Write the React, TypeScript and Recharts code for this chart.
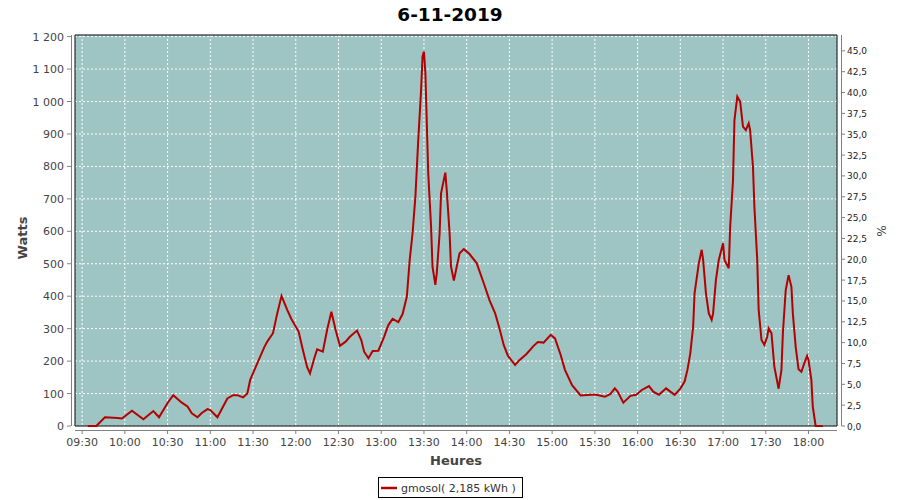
import { LineChart, Line, XAxis, YAxis, CartesianGrid, ReferenceArea } from 'recharts';

// readings (time of day, watts)
const times = [
  '09:34', '09:40', '09:46', '09:55', '09:58', '10:05', '10:13', '10:20', '10:24', '10:30',
  '10:34', '10:40', '10:44', '10:47', '10:51', '10:54', '10:58', '11:00', '11:05', '11:09',
  '11:12', '11:16', '11:19', '11:23', '11:26', '11:28', '11:31', '11:35', '11:38', '11:40',
  '11:44', '11:47', '11:50', '11:54', '11:57', '12:02', '12:05', '12:08', '12:10', '12:13',
  '12:15', '12:19', '12:22', '12:25', '12:28', '12:31', '12:35', '12:38', '12:43', '12:46',
  '12:48', '12:51', '12:54', '12:58', '13:02', '13:05', '13:08', '13:12', '13:15', '13:18',
  '13:20', '13:22', '13:24', '13:26', '13:28', '13:29', '13:30', '13:31', '13:32', '13:33',
  '13:35', '13:36', '13:38', '13:39', '13:41', '13:42', '13:45', '13:46', '13:48', '13:49',
  '13:51', '13:53', '13:55', '13:58', '14:02', '14:07', '14:12', '14:16', '14:20', '14:23',
  '14:26', '14:29', '14:34', '14:37', '14:42', '14:47', '14:50', '14:54', '14:59', '15:02',
  '15:06', '15:09', '15:14', '15:20', '15:27', '15:31', '15:37', '15:41', '15:44', '15:46',
  '15:50', '15:55', '15:59', '16:03', '16:08', '16:11', '16:15', '16:20', '16:23', '16:26',
  '16:30', '16:33', '16:35', '16:37', '16:39', '16:40', '16:43', '16:45', '16:46', '16:48',
  '16:50', '16:52', '16:53', '16:55', '16:57', '17:00', '17:01', '17:04', '17:05', '17:07',
  '17:08', '17:10', '17:12', '17:14', '17:16', '17:18', '17:19', '17:21', '17:22', '17:24',
  '17:25', '17:27', '17:29', '17:31', '17:32', '17:34', '17:36', '17:39', '17:41', '17:42',
  '17:44', '17:46', '17:48', '17:49', '17:51', '17:53', '17:55', '17:57', '17:59', '18:00',
  '18:02', '18:03', '18:05', '18:10',
];

const watts = [
  0, 0, 27, 25, 23, 47, 21, 46, 27, 71,
  95, 72, 60, 39, 27, 40, 52, 49, 27, 60,
  85, 95, 95, 88, 100, 142, 173, 214, 244, 260,
  286, 347, 401, 358, 329, 291, 234, 181, 162, 209,
  236, 229, 296, 352, 296, 247, 260, 275, 294, 265,
  229, 209, 231, 232, 275, 311, 330, 320, 345, 399,
  512, 594, 707, 882, 1036, 1139, 1154, 1087, 933, 779,
  614, 491, 435, 471, 594, 717, 781, 727, 594, 491,
  448, 491, 532, 545, 530, 502, 440, 388, 347, 301,
  250, 216, 188, 203, 222, 247, 259, 257, 281, 270,
  219, 173, 126, 94, 96, 96, 90, 99, 116, 106,
  72, 93, 96, 111, 123, 106, 96, 116, 106, 96,
  115, 137, 173, 224, 306, 409, 502, 543, 512, 409,
  347, 327, 347, 450, 512, 563, 512, 486, 614, 758,
  943, 1015, 1000, 923, 912, 933, 912, 799, 676, 512,
  358, 265, 250, 275, 301, 286, 183, 115, 173, 286,
  419, 465, 429, 347, 244, 175, 167, 193, 216, 203,
  142, 60, 0, 0,
];

const xTickLabels = [
  '09:30', '10:00', '10:30', '11:00', '11:30', '12:00', '12:30', '13:00', '13:30',
  '14:00', '14:30', '15:00', '15:30', '16:00', '16:30', '17:00', '17:30', '18:00',
];
const wattTicks = [0, 100, 200, 300, 400, 500, 600, 700, 800, 900, 1000, 1100, 1200];
const pctTicks = [0, 2.5, 5, 7.5, 10, 12.5, 15, 17.5, 20, 22.5, 25, 27.5, 30, 32.5, 35, 37.5, 40, 42.5, 45];

const xStart = '09:25';
const xEnd = '18:20';

const toMin = (s: string) => {
  const [h, m] = s.split(':').map(Number);
  return h * 60 + m;
};
const fmtTime = (v: number) =>
  `${String(Math.floor(v / 60)).padStart(2, '0')}:${String(v % 60).padStart(2, '0')}`;
const fmtWatts = (v: number) =>
  v >= 1000 ? `${Math.floor(v / 1000)} ${String(v % 1000).padStart(3, '0')}` : String(v);
const fmtPct = (v: number) => v.toFixed(1).replace('.', ',');

const data = times.map((t, i) => ({ t: toMin(t), w: watts[i] }));

const W = 900;
const H = 500;
const PL = 75;
const PT = 35;
const PR = 837;
const PB = 426;
const FONT = '"DejaVu Sans", sans-serif';
const AXIS = '#808080';
const RED = '#b40000';

const LeftTick = ({ y, payload }: any) => (
  <g>
    <line x1={PL - 8} x2={PL - 4} y1={y} y2={y} stroke={AXIS} />
    <text x={PL - 11} y={y} dy={4} textAnchor="end" fontSize={11} fill="#444" fontFamily={FONT}>
      {fmtWatts(payload.value)}
    </text>
  </g>
);

const RightTick = ({ y, payload }: any) => (
  <g>
    <line x1={PR + 4.5} x2={PR + 8} y1={y} y2={y} stroke={AXIS} />
    <text x={PR + 10} y={y} dy={3.5} textAnchor="start" fontSize={9} fill="#222" fontFamily={FONT}>
      {fmtPct(payload.value)}
    </text>
  </g>
);

const BottomTick = ({ x, payload }: any) => (
  <g>
    <line x1={x} x2={x} y1={PB + 4} y2={PB + 8} stroke={AXIS} />
    <text x={x} y={PB + 20} textAnchor="middle" fontSize={11} fill="#444" fontFamily={FONT}>
      {fmtTime(payload.value)}
    </text>
  </g>
);

export default function App() {
  return (
    <div style={{ position: 'absolute', left: 0, top: 0, width: W, height: H, background: '#fff' }}>
      <LineChart width={W} height={H} data={data} margin={{ top: PT, right: 0, bottom: 0, left: 0 }}>
        <CartesianGrid
          yAxisId="left"
          fill="#9ec4c3"
          stroke="#ffffff"
          strokeDasharray="2 2"
        />
        <XAxis
          type="number"
          dataKey="t"
          domain={[toMin(xStart), toMin(xEnd)]}
          ticks={xTickLabels.map(toMin)}
          interval={0}
          tick={<BottomTick />}
          tickLine={false}
          axisLine={false}
          height={H - PB}
        />
        <YAxis
          yAxisId="left"
          domain={[0, 1205]}
          ticks={wattTicks}
          interval={0}
          tick={<LeftTick />}
          tickLine={false}
          axisLine={false}
          width={PL}
        />
        <YAxis
          yAxisId="right"
          orientation="right"
          domain={[0, 46.9]}
          allowDataOverflow
          ticks={pctTicks}
          interval={0}
          tick={<RightTick />}
          tickLine={false}
          axisLine={false}
          width={W - PR}
        />
        <ReferenceArea
          yAxisId="left"
          x1={toMin(xStart)}
          x2={toMin(xEnd)}
          y1={0}
          y2={1205}
          fill="none"
          stroke="#000"
          strokeWidth={1}
          fillOpacity={0}
        />
        {/* invisible series so the % axis gets drawn */}
        <Line
          yAxisId="right"
          type="linear"
          dataKey="w"
          stroke="none"
          strokeOpacity={0}
          dot={false}
          activeDot={false}
          legendType="none"
          isAnimationActive={false}
        />
        <Line
          yAxisId="left"
          type="linear"
          dataKey="w"
          stroke={RED}
          strokeWidth={2}
          dot={false}
          isAnimationActive={false}
        />
      </LineChart>
      <svg
        width={W}
        height={H}
        style={{ position: 'absolute', left: 0, top: 0, pointerEvents: 'none' }}
        fontFamily={FONT}
      >
        <text x={450} y={21} textAnchor="middle" fontSize={18.5} fontWeight="bold" fill="#000">
          6-11-2019
        </text>
        <line x1={PL - 3.5} x2={PL - 3.5} y1={PT} y2={PB} stroke={AXIS} />
        <line x1={PR + 4.5} x2={PR + 4.5} y1={PT} y2={PB} stroke={AXIS} />
        <line x1={PL} x2={PR} y1={PB + 4.5} y2={PB + 4.5} stroke={AXIS} />
        <text
          transform={`translate(27, 238) rotate(-90)`}
          textAnchor="middle"
          fontSize={13}
          fontWeight="bold"
          fill="#444"
        >
          Watts
        </text>
        <text
          transform={`translate(877, 231) rotate(90)`}
          textAnchor="middle"
          fontSize={12}
          fill="#444"
        >
          %
        </text>
        <text x={(PL + PR) / 2} y={465} textAnchor="middle" fontSize={13} fontWeight="bold" fill="#444">
          Heures
        </text>
        <rect x={378.5} y={477.5} width={144} height={20} fill="#fff" stroke="#000" />
        <line x1={381} x2={397} y1={488} y2={488} stroke={RED} strokeWidth={2.5} />
        <text x={401} y={492} fontSize={11} fill="#333">
          gmosol( 2,185 kWh )
        </text>
      </svg>
    </div>
  );
}
